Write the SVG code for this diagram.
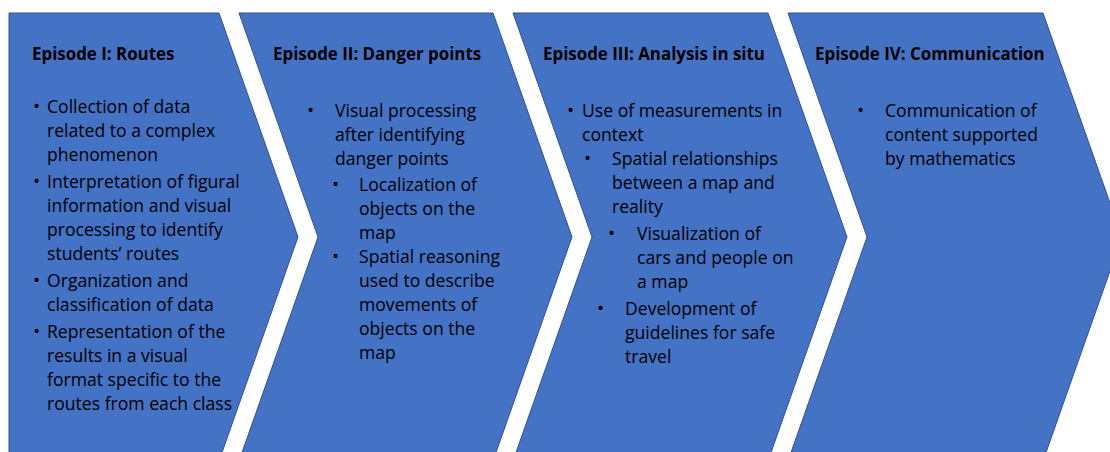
<svg xmlns="http://www.w3.org/2000/svg" width="1110" height="452" viewBox="0 0 1110 452">
  <style>
    .chev { fill: #4472C4; stroke: #2F528F; stroke-width: 1; }
    .title { font-family: "Open Sans", "Liberation Sans", sans-serif; font-weight: bold; font-size: 16.9px; fill: #000; }
    .body { font-family: "Open Sans", "Liberation Sans", sans-serif; font-size: 17.6px; fill: #000; }
    .dot { font-size: 19px; }
  </style>
  <rect width="1110" height="452" fill="#fff"/>

  <!-- Episode I: pentagon with flat left edge -->
  <g id="episode1">
    <path class="chev" d="M9,13 L219,13 L298,237 L219,461 L9,461 Z"/>
    <text class="title" x="32" y="60">Episode I: Routes</text>
    <text class="body">
      <tspan class="dot" x="33" y="113">•</tspan><tspan x="47" y="113">Collection of data</tspan>
      <tspan x="47" y="137">related to a complex</tspan>
      <tspan x="47" y="161">phenomenon</tspan>
      <tspan class="dot" x="33" y="188">•</tspan><tspan x="47" y="188">Interpretation of figural</tspan>
      <tspan x="47" y="212">information and visual</tspan>
      <tspan x="47" y="236">processing to identify</tspan>
      <tspan x="47" y="260">students’ routes</tspan>
      <tspan class="dot" x="33" y="287">•</tspan><tspan x="47" y="287">Organization and</tspan>
      <tspan x="47" y="311">classification of data</tspan>
      <tspan class="dot" x="33" y="338">•</tspan><tspan x="47" y="338">Representation of the</tspan>
      <tspan x="47" y="362">results in a visual</tspan>
      <tspan x="47" y="386">format specific to the</tspan>
      <tspan x="47" y="410">routes from each class</tspan>
    </text>
  </g>

  <!-- Episode II: chevron -->
  <g id="episode2">
    <path class="chev" d="M239,13 L493,13 L572,237 L493,461 L239,461 L318,237 Z"/>
    <text class="title" x="273" y="60">Episode II: Danger points</text>
    <text class="body">
      <tspan class="dot" x="307" y="117">•</tspan><tspan x="335" y="117">Visual processing</tspan>
      <tspan x="335" y="141">after identifying</tspan>
      <tspan x="335" y="165">danger points</tspan>
      <tspan class="dot" x="332" y="191">•</tspan><tspan x="359" y="191">Localization of</tspan>
      <tspan x="359" y="215">objects on the</tspan>
      <tspan x="359" y="239">map</tspan>
      <tspan class="dot" x="332" y="263">•</tspan><tspan x="359" y="263">Spatial reasoning</tspan>
      <tspan x="359" y="287">used to describe</tspan>
      <tspan x="359" y="311">movements of</tspan>
      <tspan x="359" y="335">objects on the</tspan>
      <tspan x="359" y="359">map</tspan>
    </text>
  </g>

  <!-- Episode III: chevron -->
  <g id="episode3">
    <path class="chev" d="M513,13 L768,13 L847,237 L768,461 L513,461 L592,237 Z"/>
    <text class="title" x="543" y="60">Episode III: Analysis in situ</text>
    <text class="body">
      <tspan class="dot" x="567" y="117">•</tspan><tspan x="582" y="117">Use of measurements in</tspan>
      <tspan x="582" y="141">context</tspan>
      <tspan class="dot" x="584" y="165">•</tspan><tspan x="612" y="165">Spatial relationships</tspan>
      <tspan x="612" y="189">between a map and</tspan>
      <tspan x="612" y="213">reality</tspan>
      <tspan class="dot" x="608" y="240">•</tspan><tspan x="637" y="240">Visualization of</tspan>
      <tspan x="637" y="264">cars and people on</tspan>
      <tspan x="637" y="288">a map</tspan>
      <tspan class="dot" x="597" y="315">•</tspan><tspan x="625" y="315">Development of</tspan>
      <tspan x="625" y="339">guidelines for safe</tspan>
      <tspan x="625" y="363">travel</tspan>
    </text>
  </g>

  <!-- Episode IV: chevron, tip runs past the right edge -->
  <g id="episode4">
    <path class="chev" d="M788,13 L1043,13 L1122,237 L1043,461 L788,461 L867,237 Z"/>
    <text class="title" x="815" y="60">Episode IV: Communication</text>
    <text class="body">
      <tspan class="dot" x="857" y="117">•</tspan><tspan x="885" y="117">Communication of</tspan>
      <tspan x="885" y="141">content supported</tspan>
      <tspan x="885" y="165">by mathematics</tspan>
    </text>
  </g>

  <g id="connectors"></g>
</svg>
